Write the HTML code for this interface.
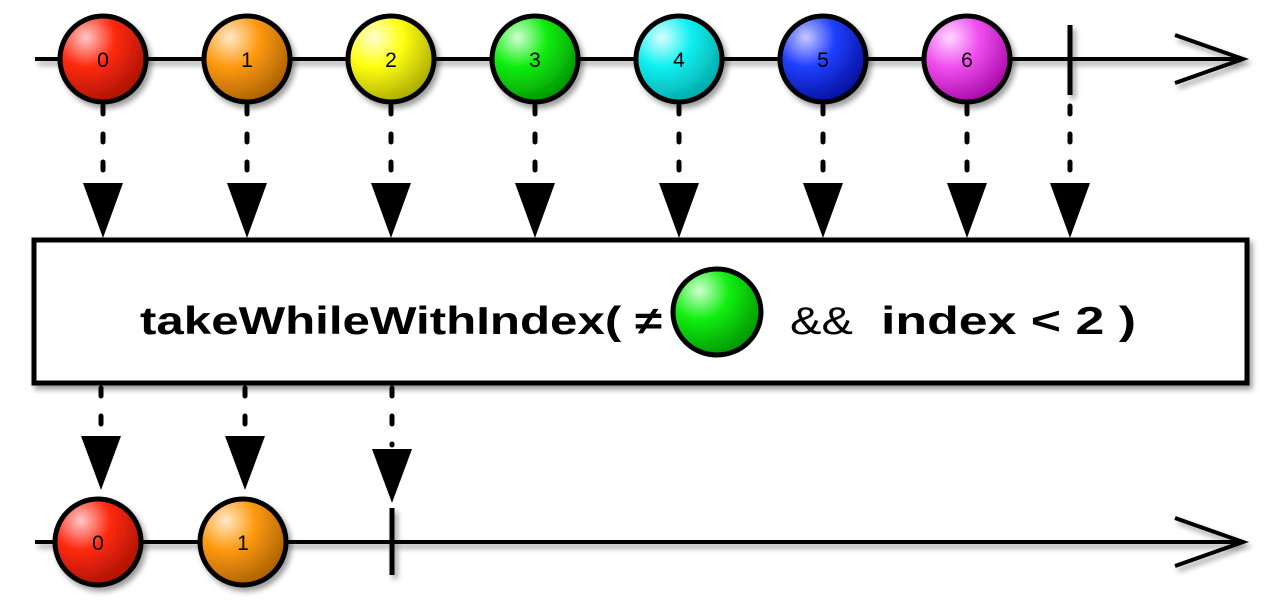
<!DOCTYPE html>
<html><head><meta charset="utf-8"><style>html,body{margin:0;padding:0;background:#fff}svg{display:block}</style></head>
<body>
<svg width="1280" height="610" viewBox="0 0 1280 610" xmlns="http://www.w3.org/2000/svg" font-family="Liberation Sans, sans-serif">
<defs>
<filter id="sh" x="-20%" y="-20%" width="150%" height="150%"><feGaussianBlur in="SourceAlpha" stdDeviation="3"/><feOffset dx="3" dy="4"/><feComponentTransfer><feFuncA type="linear" slope="0.4"/></feComponentTransfer><feMerge><feMergeNode/><feMergeNode in="SourceGraphic"/></feMerge></filter>
<radialGradient id="g0" cx="0.3" cy="0.25" r="0.85"><stop offset="0" stop-color="#ffc8c8"/><stop offset="0.4" stop-color="#ff2a10"/><stop offset="1" stop-color="#a01000"/></radialGradient>
<radialGradient id="g1" cx="0.3" cy="0.25" r="0.85"><stop offset="0" stop-color="#ffe8c8"/><stop offset="0.4" stop-color="#ff9a10"/><stop offset="1" stop-color="#a05a00"/></radialGradient>
<radialGradient id="g2" cx="0.3" cy="0.25" r="0.85"><stop offset="0" stop-color="#ffffd0"/><stop offset="0.4" stop-color="#ffff10"/><stop offset="1" stop-color="#a0a000"/></radialGradient>
<radialGradient id="g3" cx="0.3" cy="0.25" r="0.85"><stop offset="0" stop-color="#d0ffd0"/><stop offset="0.4" stop-color="#10ee10"/><stop offset="1" stop-color="#008a00"/></radialGradient>
<radialGradient id="g4" cx="0.3" cy="0.25" r="0.85"><stop offset="0" stop-color="#d8ffff"/><stop offset="0.4" stop-color="#10f0f0"/><stop offset="1" stop-color="#00a0a0"/></radialGradient>
<radialGradient id="g5" cx="0.3" cy="0.25" r="0.85"><stop offset="0" stop-color="#c8c8ff"/><stop offset="0.4" stop-color="#2040ff"/><stop offset="1" stop-color="#000a90"/></radialGradient>
<radialGradient id="g6" cx="0.3" cy="0.25" r="0.85"><stop offset="0" stop-color="#ffd8ff"/><stop offset="0.4" stop-color="#f050f0"/><stop offset="1" stop-color="#a000a0"/></radialGradient>
</defs>

<g filter="url(#sh)">
<line x1="35" y1="59" x2="1240" y2="59" stroke="#000" stroke-width="4"/>
<polyline points="1175,35 1243,59 1175,83" fill="none" stroke="#000" stroke-width="4"/>
<line x1="1070" y1="25" x2="1070" y2="95" stroke="#000" stroke-width="5"/>
</g>
<g stroke="#000" stroke-width="5" filter="url(#sh)">
<circle cx="103" cy="59" r="43" fill="url(#g0)"/>
<circle cx="247" cy="59" r="43" fill="url(#g1)"/>
<circle cx="391" cy="59" r="43" fill="url(#g2)"/>
<circle cx="535" cy="59" r="43" fill="url(#g3)"/>
<circle cx="679" cy="59" r="43" fill="url(#g4)"/>
<circle cx="823" cy="59" r="43" fill="url(#g5)"/>
<circle cx="967" cy="59" r="43" fill="url(#g6)"/>
</g>
<g font-size="21" text-anchor="middle">
<text x="103" y="67">0</text><text x="247" y="67">1</text><text x="391" y="67">2</text><text x="535" y="67">3</text><text x="679" y="67">4</text><text x="823" y="67">5</text><text x="967" y="67">6</text>
</g>

<g stroke="#000" stroke-width="5" stroke-dasharray="8,20" stroke-linecap="round">
<line x1="103" y1="106" x2="103" y2="180"/><line x1="247" y1="106" x2="247" y2="180"/><line x1="391" y1="106" x2="391" y2="180"/><line x1="535" y1="106" x2="535" y2="180"/><line x1="679" y1="106" x2="679" y2="180"/><line x1="823" y1="106" x2="823" y2="180"/><line x1="967" y1="106" x2="967" y2="180"/><line x1="1070" y1="106" x2="1070" y2="180"/>
</g>
<g fill="#000">
<polygon points="83,183 123,183 103,238"/><polygon points="227,183 267,183 247,238"/><polygon points="371,183 411,183 391,238"/><polygon points="515,183 555,183 535,238"/><polygon points="659,183 699,183 679,238"/><polygon points="803,183 843,183 823,238"/><polygon points="947,183 987,183 967,238"/><polygon points="1050,183 1090,183 1070,238"/>
</g>

<rect x="34" y="240" width="1213" height="143" fill="#fff" stroke="#000" stroke-width="5" filter="url(#sh)"/>
<text x="140" y="334" font-size="39" font-weight="bold" textLength="522" lengthAdjust="spacingAndGlyphs">takeWhileWithIndex( ≠</text>
<ellipse cx="717" cy="312" rx="44" ry="43" fill="url(#g3)" stroke="#000" stroke-width="5"/>
<text x="790" y="334" font-size="39" textLength="63" lengthAdjust="spacingAndGlyphs">&amp;&amp;</text>
<text x="881" y="334" font-size="39" font-weight="bold" textLength="255" lengthAdjust="spacingAndGlyphs">index &lt; 2  )</text>

<g stroke="#000" stroke-width="5" stroke-dasharray="8,20" stroke-linecap="round">
<line x1="101" y1="388" x2="101" y2="430"/><line x1="245" y1="388" x2="245" y2="430"/><line x1="392" y1="388" x2="392" y2="445"/>
</g>
<g fill="#000">
<polygon points="81,436 121,436 101,490"/><polygon points="225,436 265,436 245,490"/><polygon points="372,449 412,449 392,503"/>
</g>

<g filter="url(#sh)">
<line x1="35" y1="542" x2="1240" y2="542" stroke="#000" stroke-width="4"/>
<polyline points="1175,518 1243,542 1175,566" fill="none" stroke="#000" stroke-width="4"/>
<line x1="392" y1="508" x2="392" y2="575" stroke="#000" stroke-width="5"/>
</g>
<g stroke="#000" stroke-width="5" filter="url(#sh)">
<circle cx="98" cy="542" r="43" fill="url(#g0)"/>
<circle cx="243" cy="542" r="43" fill="url(#g1)"/>
</g>
<g font-size="21" text-anchor="middle"><text x="98" y="550">0</text><text x="243" y="550">1</text></g>
</svg>
</body></html>
